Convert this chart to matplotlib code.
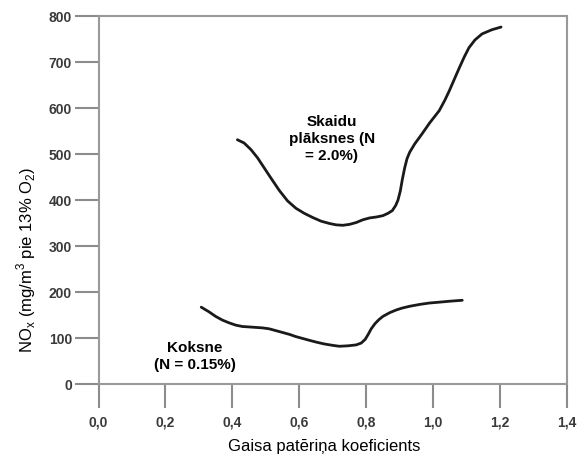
import matplotlib.pyplot as plt

plt.rcParams['font.family'] = ['Liberation Sans', 'DejaVu Sans']

# Skaidu plāksnes (N = 2.0%)
x_skaidu = [0.415, 0.435, 0.455, 0.475, 0.495, 0.515, 0.540, 0.565, 0.590, 0.615,
            0.640, 0.665, 0.690, 0.710, 0.730, 0.750, 0.770, 0.790, 0.810, 0.830,
            0.850, 0.865, 0.878, 0.888, 0.895, 0.902, 0.908, 0.915, 0.922, 0.930,
            0.945, 0.967, 0.990, 1.018, 1.035, 1.048, 1.063, 1.078, 1.093, 1.107,
            1.125, 1.146, 1.175, 1.203]
y_skaidu = [531, 524, 510, 492, 470, 448, 421, 398, 382, 371,
            362, 354, 349, 346, 345, 347, 351, 357, 361, 363,
            366, 371, 377, 388, 400, 420, 445, 470, 490, 504,
            522, 544, 568, 594, 617, 637, 662, 687, 711, 731,
            748, 761, 770, 776]

# Koksne (N = 0.15%)
x_koksne = [0.307, 0.330, 0.350, 0.370, 0.390, 0.410, 0.430, 0.451, 0.470, 0.490,
            0.510, 0.530, 0.550, 0.570, 0.590, 0.610, 0.630, 0.651, 0.675, 0.700,
            0.720, 0.745, 0.770, 0.785, 0.797, 0.806, 0.815, 0.826, 0.838, 0.850,
            0.870, 0.890, 0.907, 0.930, 0.960, 0.988, 1.020, 1.050, 1.087]
y_koksne = [167, 157, 147, 139, 133, 128, 125, 124, 123, 122,
            120, 116, 112, 108, 103, 99, 95, 91, 87, 84,
            82, 83, 85, 89, 97, 108, 120, 131, 140, 147,
            155, 161, 165, 169, 173, 176, 178, 180, 182]

x_ticks = [0.0, 0.2, 0.4, 0.6, 0.8, 1.0, 1.2, 1.4]
x_ticklabels = ['0,0', '0,2', '0,4', '0,6', '0,8', '1,0', '1,2', '1,4']
y_ticks = [0, 100, 200, 300, 400, 500, 600, 700, 800]

fig = plt.figure(figsize=(5.83, 4.59), dpi=100)
ax = fig.add_axes([98.5 / 583, 1 - 384 / 459, (567 - 98.5) / 583, (384 - 16) / 459])

ax.plot(x_skaidu, y_skaidu, color='#1a1a1a', linewidth=2.0,
        solid_capstyle='round', solid_joinstyle='round')
ax.plot(x_koksne, y_koksne, color='#1a1a1a', linewidth=2.0,
        solid_capstyle='round', solid_joinstyle='round')

ax.set_xlim(0, 1.4)
ax.set_ylim(0, 800)
ax.set_xticks(x_ticks)
ax.set_xticklabels(x_ticklabels)
ax.set_yticks(y_ticks)

for side in ['left', 'right', 'top', 'bottom']:
    ax.spines[side].set_color('#999999')
    ax.spines[side].set_linewidth(1.5)

ax.tick_params(axis='both', direction='out', length=17, width=1.5, color='#8c8c8c',
               labelsize=10, labelcolor='#3a3a3a')
ax.tick_params(axis='x', pad=6)
ax.tick_params(axis='y', pad=2)
for lab in ax.get_xticklabels() + ax.get_yticklabels():
    lab.set_fontweight('bold')

ax.text(0.697, 533, 'Skaidu\nplāksnes (N\n= 2.0%)', ha='center', va='center',
        fontsize=11, fontweight='bold', linespacing=1.25)
ax.text(0.287, 60, 'Koksne\n(N = 0.15%)', ha='center', va='center',
        fontsize=11, fontweight='bold', linespacing=1.25)

fig.text(26 / 583, 1 - 260 / 459,
         r'NO$_\mathregular{x}$ (mg/m$^\mathregular{3}$ pie 13% O$_\mathregular{2}$)',
         rotation=90, ha='center', va='center', fontsize=12)
fig.text(324 / 583, 1 - 447 / 459, 'Gaisa patēriņa koeficients',
         ha='center', va='center', fontsize=12)

fig.savefig('out.png', dpi=100)
